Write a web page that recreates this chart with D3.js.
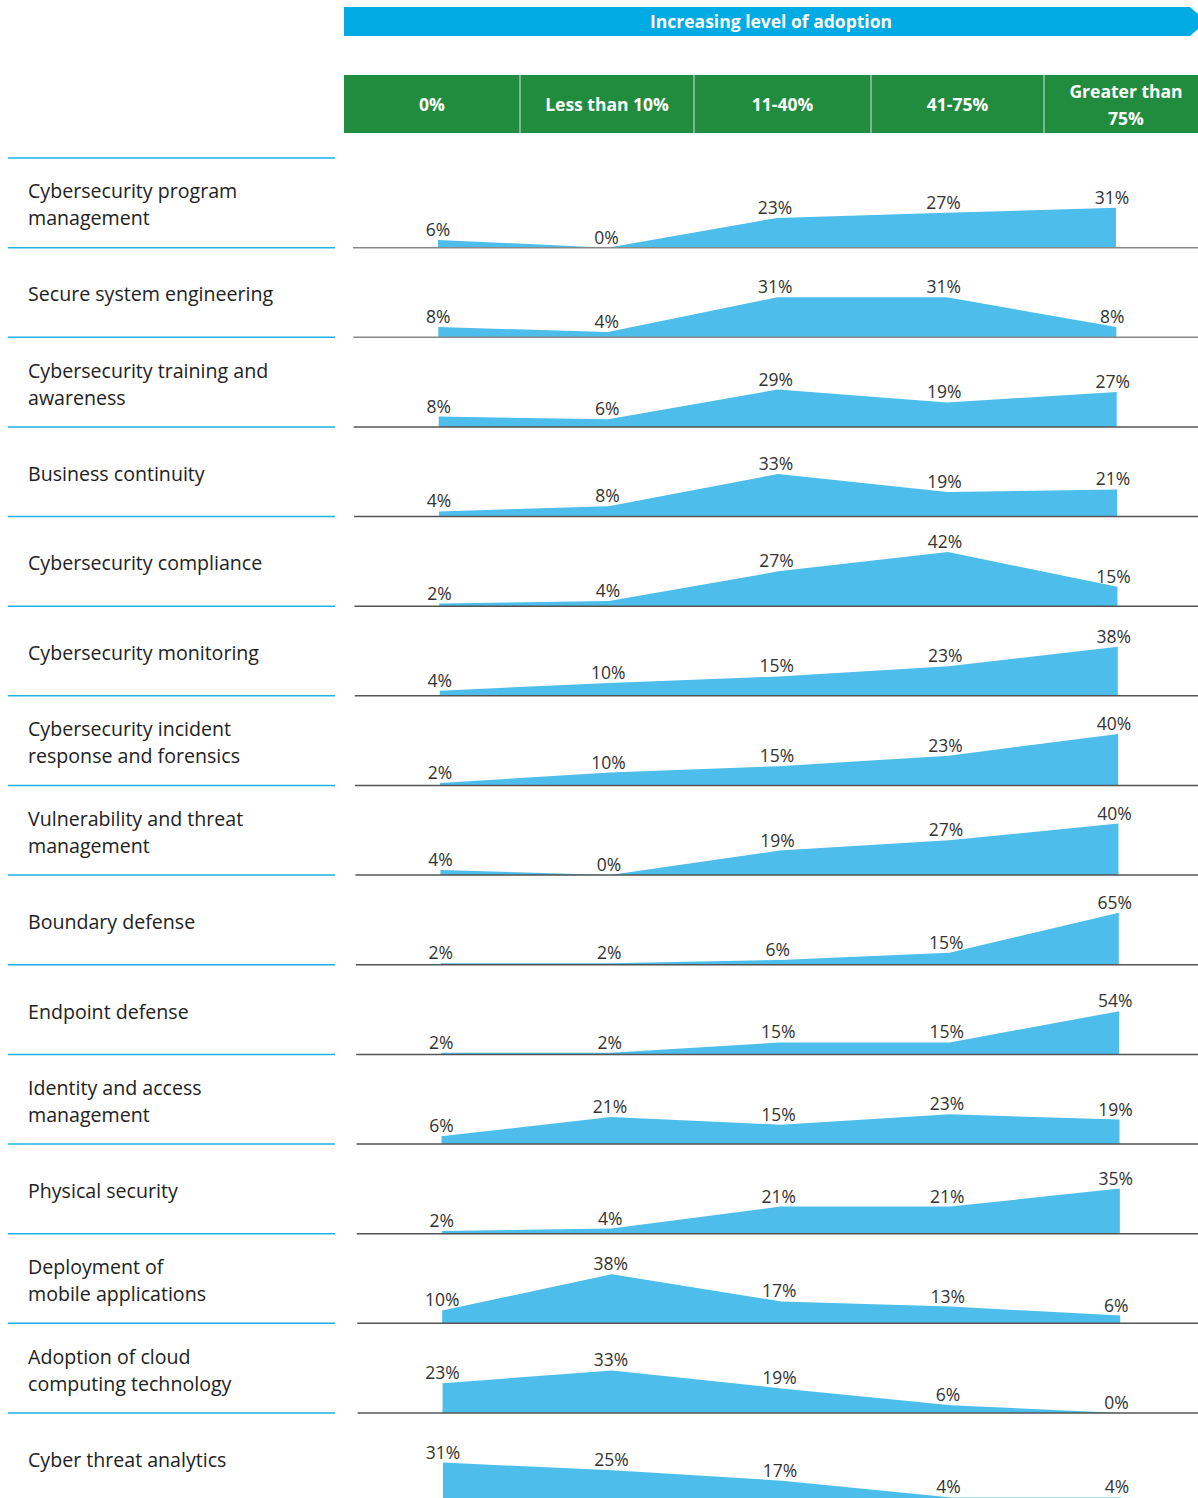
<!DOCTYPE html>
<html>
<head>
<meta charset="utf-8">
<script src="https://cdn.jsdelivr.net/npm/d3@7"></script>
<style>
  body { margin: 0; background: #fff; }
  svg { display: block; font-family: "Open Sans", "Noto Sans", sans-serif; }
</style>
</head>
<body>
<svg id="chart" width="1198" height="1498"></svg>
<script>
// adoption levels (column headers)
const levels = ["0%", "Less than 10%", "11-40%", "41-75%", "Greater than 75%"];
const levelLines = [["0%"], ["Less than 10%"], ["11-40%"], ["41-75%"], ["Greater than", "75%"]];

// capability rows, split into display lines
const capabilities = [
  ["Cybersecurity program", "management"],
  ["Secure system engineering"],
  ["Cybersecurity training and", "awareness"],
  ["Business continuity"],
  ["Cybersecurity compliance"],
  ["Cybersecurity monitoring"],
  ["Cybersecurity incident", "response and forensics"],
  ["Vulnerability and threat", "management"],
  ["Boundary defense"],
  ["Endpoint defense"],
  ["Identity and access", "management"],
  ["Physical security"],
  ["Deployment of", "mobile applications"],
  ["Adoption of cloud", "computing technology"],
  ["Cyber threat analytics"]
];

// share of respondents (%) per level, one entry per capability row
const pct0       = [6, 8, 8, 4, 2, 4, 2, 4, 2, 2, 6, 2, 10, 23, 31];
const pctUnder10 = [0, 4, 6, 8, 4, 10, 10, 0, 2, 2, 21, 4, 38, 33, 25];
const pct11to40  = [23, 31, 29, 33, 27, 15, 15, 19, 6, 15, 15, 21, 17, 19, 17];
const pct41to75  = [27, 31, 19, 19, 42, 23, 23, 27, 15, 15, 23, 21, 13, 6, 4];
const pctOver75  = [31, 8, 27, 21, 15, 38, 40, 40, 65, 54, 19, 35, 6, 0, 4];

const bannerText = "Increasing level of adoption";

let svg = d3.select("svg#chart");
let rowTop = 158, rowH = 89.64;
let areaColor = "#4dbeec", cyan = "#1eb1e7", green = "#228c3e";

// banner arrow
svg.append("path")
  .attr("d", "M344,7 L1190,7 L1198,14 L1198,29 L1190,36 L344,36 Z")
  .attr("fill", "#00aae3");
svg.append("text")
  .attr("x", 771).attr("y", 21)
  .attr("text-anchor", "middle").attr("dominant-baseline", "central")
  .attr("fill", "#fff").attr("font-weight", "bold").attr("font-size", 17.5)
  .text(bannerText);

// green header with columns
let colBounds = [344, 520, 694, 871, 1044, 1208];
svg.append("rect").attr("x", 344).attr("y", 75).attr("width", 854).attr("height", 58).attr("fill", green);
for (let c = 1; c < 5; c++) {
  svg.append("line")
    .attr("x1", colBounds[c]).attr("x2", colBounds[c])
    .attr("y1", 75).attr("y2", 133)
    .attr("stroke", "#cfe6d4").attr("stroke-width", 1);
}
levelLines.forEach(function(lines, c) {
  let cx = (colBounds[c] + colBounds[c + 1]) / 2;
  lines.forEach(function(t, k) {
    svg.append("text")
      .attr("x", cx)
      .attr("y", 104 + (k - (lines.length - 1) / 2) * 27)
      .attr("text-anchor", "middle").attr("dominant-baseline", "central")
      .attr("fill", "#fff").attr("font-weight", "bold").attr("font-size", 17.5)
      .text(t);
  });
});

let series = [pct0, pctUnder10, pct11to40, pct41to75, pctOver75];

capabilities.forEach(function(lines, i) {
  let top = rowTop + i * rowH;
  let base = top + rowH;
  let shift = i * 0.35;
  let values = series.map(s => s[i]);

  // left label divider
  svg.append("line")
    .attr("x1", 8).attr("x2", 335)
    .attr("y1", top).attr("y2", top)
    .attr("stroke", cyan).attr("stroke-width", 1.5);

  lines.forEach(function(t, k) {
    svg.append("text")
      .attr("x", 28)
      .attr("y", top + rowH / 2 + 1.5 + (k - (lines.length - 1) / 2) * 27)
      .attr("dominant-baseline", "central")
      .attr("fill", "#222").attr("font-size", 19.6)
      .text(t);
  });

  let xScale = d3.scalePoint().domain(levels).range([438 + shift, 1116 + shift]);
  let yMax = d3.max(values) > 50 ? 65 : 40;
  let yScale = d3.scaleLinear().domain([0, yMax]).range([base, base - (yMax > 50 ? 52 : 51.6)]);

  let pts = levels.map((l, c) => ({ level: l, v: values[c], c: c }));

  svg.append("path")
    .datum(pts)
    .attr("d", d3.area().x(d => xScale(d.level)).y0(base).y1(d => yScale(d.v)))
    .attr("fill", areaColor);

  svg.append("line")
    .attr("x1", 353 + shift).attr("x2", 1198)
    .attr("y1", base).attr("y2", base)
    .attr("stroke", i < 2 ? "#888" : "#555").attr("stroke-width", 1.5);

  pts.forEach(function(d) {
    svg.append("text")
      .attr("x", xScale(d.level) - d.c)
      .attr("y", yScale(d.v) - 4)
      .attr("text-anchor", "middle")
      .attr("fill", "#333").attr("font-size", 17.5)
      .text(d.v + "%");
  });
});
</script>
</body>
</html>
